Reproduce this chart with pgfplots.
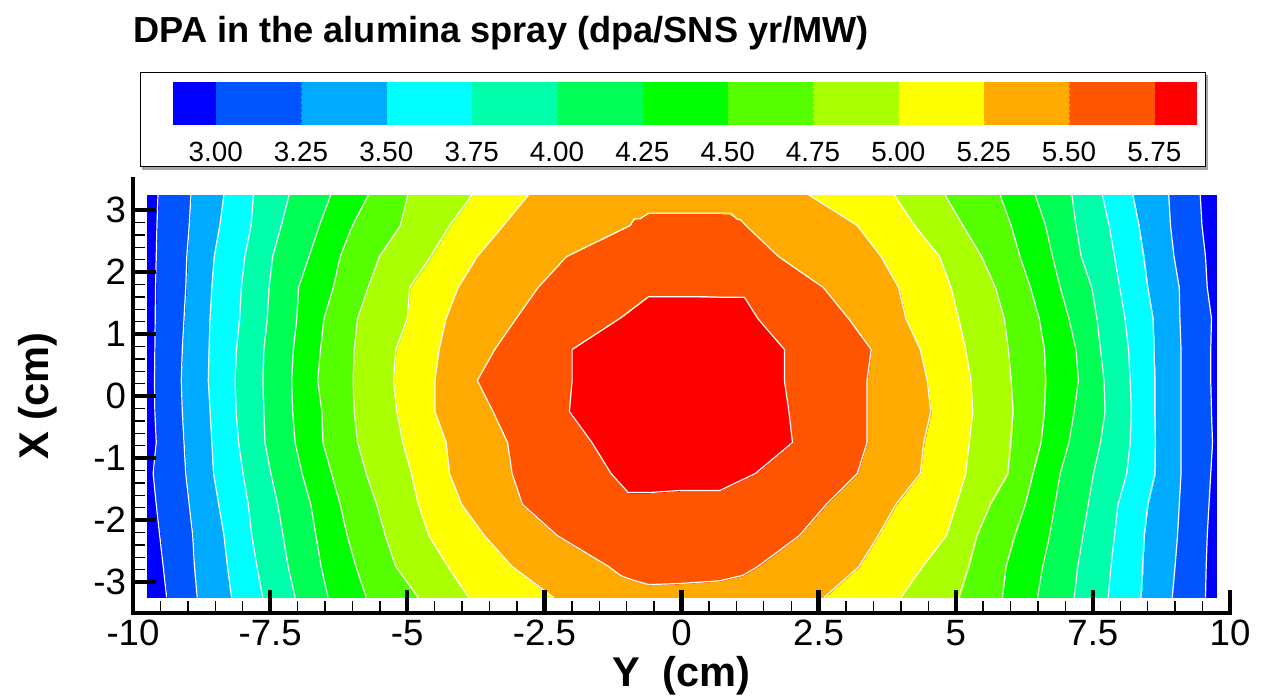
\documentclass[border=0pt]{standalone}
\usepackage{fontspec}
\setmainfont{Liberation Sans}
\usepackage{pgfplots}
\usepackage{pgfplotstable}
\pgfplotsset{compat=1.18}

% 13 contour bands, 0.125 per colormap step (end bands are half bands)
\pgfplotsset{
  /pgf/number format/assume math mode=true,
  colormap={dpa}{
    rgb255(0cm)=(0,0,255)
    rgb255(1cm)=(0,85,255)   rgb255(2cm)=(0,85,255)
    rgb255(3cm)=(0,170,255)  rgb255(4cm)=(0,170,255)
    rgb255(5cm)=(0,255,255)  rgb255(6cm)=(0,255,255)
    rgb255(7cm)=(0,255,170)  rgb255(8cm)=(0,255,170)
    rgb255(9cm)=(0,255,85)   rgb255(10cm)=(0,255,85)
    rgb255(11cm)=(0,255,0)   rgb255(12cm)=(0,255,0)
    rgb255(13cm)=(85,255,0)  rgb255(14cm)=(85,255,0)
    rgb255(15cm)=(170,255,0) rgb255(16cm)=(170,255,0)
    rgb255(17cm)=(255,255,0) rgb255(18cm)=(255,255,0)
    rgb255(19cm)=(255,170,0) rgb255(20cm)=(255,170,0)
    rgb255(21cm)=(255,85,0)  rgb255(22cm)=(255,85,0)
    rgb255(23cm)=(255,0,0)   rgb255(24cm)=(255,0,0)
  },
  colormap access=piecewise constant,
  point meta min=2.875, point meta max=5.875,
}

% dpa values on the mesh: one line of 28 points per X row (k = column)
\pgfplotstableread{
k Y X v
0 -9.75 3.25 2.92
1 -9.544 3.25 3.00
2 -8.943 3.25 3.25
3 -8.342 3.25 3.50
4 -7.804 3.25 3.75
5 -7.152 3.25 4.00
6 -6.392 3.25 4.25
7 -5.703 3.25 4.50
8 -4.987 3.25 4.75
9 -3.816 3.25 5.00
10 -2.785 3.25 5.25
11 -1.6 3.25 5.36
12 -1.1 3.25 5.39
13 -0.6 3.25 5.41
14 0.7 3.25 5.41
15 1.2 3.25 5.39
16 1.7 3.25 5.36
17 2.310 3.25 5.25
18 3.874 3.25 5.00
19 4.799 3.25 4.75
20 5.807 3.25 4.50
21 6.446 3.25 4.25
22 7.116 3.25 4.00
23 7.671 3.25 3.75
24 8.226 3.25 3.50
25 8.883 3.25 3.25
26 9.457 3.25 3.00
27 9.75 3.25 2.90
0 -9.75 2.75 2.92
1 -9.563 2.75 3.00
2 -8.975 2.75 3.25
3 -8.418 2.75 3.50
4 -7.848 2.75 3.75
5 -7.297 2.75 4.00
6 -6.601 2.75 4.25
7 -6.000 2.75 4.50
8 -5.127 2.75 4.75
9 -4.228 2.75 5.00
10 -3.247 2.75 5.25
11 -0.937 2.75 5.50
12 -0.8 2.75 5.53
13 -0.6 2.75 5.56
14 0.7 2.75 5.56
15 0.95 2.75 5.53
16 1.174 2.75 5.50
17 3.204 2.75 5.25
18 4.250 2.75 5.00
19 5.131 2.75 4.75
20 6.011 2.75 4.50
21 6.637 2.75 4.25
22 7.192 2.75 4.00
23 7.798 2.75 3.75
24 8.341 2.75 3.50
25 8.915 2.75 3.25
26 9.489 2.75 3.00
27 9.75 2.75 2.90
0 -9.75 2.25 2.92
1 -9.576 2.25 3.00
2 -9.019 2.25 3.25
3 -8.519 2.25 3.50
4 -7.962 2.25 3.75
5 -7.456 2.25 4.00
6 -6.791 2.25 4.25
7 -6.222 2.25 4.50
8 -5.506 2.25 4.75
9 -4.576 2.25 5.00
10 -3.722 2.25 5.25
11 -2.095 2.25 5.50
12 -1.3 2.25 5.64
13 -0.6 2.25 5.66
14 0.7 2.25 5.66
15 1.2 2.25 5.64
16 1.768 2.25 5.50
17 3.638 2.25 5.25
18 4.703 2.25 5.00
19 5.469 2.25 4.75
20 6.171 2.25 4.50
21 6.765 2.25 4.25
22 7.288 2.25 4.00
23 7.894 2.25 3.75
24 8.424 2.25 3.50
25 8.979 2.25 3.25
26 9.553 2.25 3.00
27 9.75 2.25 2.90
0 -9.75 1.75 2.92
1 -9.589 1.75 3.00
2 -9.038 1.75 3.25
3 -8.563 1.75 3.50
4 -8.025 1.75 3.75
5 -7.519 1.75 4.00
6 -6.981 1.75 4.25
7 -6.348 1.75 4.50
8 -5.715 1.75 4.75
9 -4.956 1.75 5.00
10 -4.070 1.75 5.25
11 -2.614 1.75 5.50
12 -1.15 1.75 5.70
13 -0.6 1.75 5.70
14 0.7 1.75 5.70
15 1.35 1.75 5.70
16 2.585 1.75 5.50
17 3.957 1.75 5.25
18 4.914 1.75 5.00
19 5.724 1.75 4.75
20 6.362 1.75 4.50
21 6.905 1.75 4.25
22 7.479 1.75 4.00
23 7.990 1.75 3.75
24 8.500 1.75 3.50
25 9.075 1.75 3.25
26 9.585 1.75 3.00
27 9.75 1.75 2.90
0 -9.75 1.25 2.92
1 -9.595 1.25 3.00
2 -9.070 1.25 3.25
3 -8.595 1.25 3.50
4 -8.057 1.25 3.75
5 -7.551 1.25 4.00
6 -7.013 1.25 4.25
7 -6.519 1.25 4.50
8 -5.905 1.25 4.75
9 -5.000 1.25 5.00
10 -4.291 1.25 5.25
11 -3.013 1.25 5.50
12 -1.127 1.25 5.75
13 -0.6 1.25 5.87
14 0.7 1.25 5.86
15 1.391 1.25 5.75
16 3.044 1.25 5.50
17 4.091 1.25 5.25
18 5.054 1.25 5.00
19 5.884 1.25 4.75
20 6.522 1.25 4.50
21 7.064 1.25 4.25
22 7.575 1.25 4.00
23 8.086 1.25 3.75
24 8.596 1.25 3.50
25 9.087 1.25 3.25
26 9.662 1.25 3.00
27 9.75 1.25 2.90
0 -9.75 0.75 2.92
1 -9.601 0.75 3.00
2 -9.101 0.75 3.25
3 -8.614 0.75 3.50
4 -8.114 0.75 3.75
5 -7.614 0.75 4.00
6 -7.076 0.75 4.25
7 -6.582 0.75 4.50
8 -5.968 0.75 4.75
9 -5.209 0.75 5.00
10 -4.418 0.75 5.25
11 -3.405 0.75 5.50
12 -1.994 0.75 5.75
13 -0.6 0.75 5.92
14 0.7 0.75 5.92
15 1.876 0.75 5.75
16 3.459 0.75 5.50
17 4.352 0.75 5.25
18 5.182 0.75 5.00
19 5.960 0.75 4.75
20 6.618 0.75 4.50
21 7.192 0.75 4.25
22 7.639 0.75 4.00
23 8.149 0.75 3.75
24 8.615 0.75 3.50
25 9.107 0.75 3.25
26 9.649 0.75 3.00
27 9.75 0.75 2.90
0 -9.75 0.25 2.92
1 -9.608 0.25 3.00
2 -9.120 0.25 3.25
3 -8.627 0.25 3.50
4 -8.139 0.25 3.75
5 -7.633 0.25 4.00
6 -7.108 0.25 4.25
7 -6.633 0.25 4.50
8 -5.987 0.25 4.75
9 -5.253 0.25 5.00
10 -4.494 0.25 5.25
11 -3.722 0.25 5.50
12 -1.994 0.25 5.75
13 -0.6 0.25 5.93
14 0.7 0.25 5.93
15 1.876 0.25 5.75
16 3.382 0.25 5.50
17 4.480 0.25 5.25
18 5.278 0.25 5.00
19 6.011 0.25 4.75
20 6.637 0.25 4.50
21 7.237 0.25 4.25
22 7.703 0.25 4.00
23 8.181 0.25 3.75
24 8.628 0.25 3.50
25 9.107 0.25 3.25
26 9.649 0.25 3.00
27 9.75 0.25 2.90
0 -9.75 -0.25 2.92
1 -9.601 -0.25 3.00
2 -9.101 -0.25 3.25
3 -8.595 -0.25 3.50
4 -8.120 -0.25 3.75
5 -7.614 -0.25 4.00
6 -7.089 -0.25 4.25
7 -6.557 -0.25 4.50
8 -5.968 -0.25 4.75
9 -5.190 -0.25 5.00
10 -4.494 -0.25 5.25
11 -3.437 -0.25 5.50
12 -2.044 -0.25 5.75
13 -0.6 -0.25 5.93
14 0.7 -0.25 5.93
15 1.959 -0.25 5.75
16 3.382 -0.25 5.50
17 4.544 -0.25 5.25
18 5.310 -0.25 5.00
19 6.043 -0.25 4.75
20 6.618 -0.25 4.50
21 7.160 -0.25 4.25
22 7.722 -0.25 4.00
23 8.200 -0.25 3.75
24 8.628 -0.25 3.50
25 9.107 -0.25 3.25
26 9.662 -0.25 3.00
27 9.75 -0.25 2.90
0 -9.75 -0.75 2.92
1 -9.576 -0.75 3.00
2 -9.070 -0.75 3.25
3 -8.563 -0.75 3.50
4 -8.076 -0.75 3.75
5 -7.595 -0.75 4.00
6 -7.044 -0.75 4.25
7 -6.538 -0.75 4.50
8 -5.905 -0.75 4.75
9 -5.082 -0.75 5.00
10 -4.291 -0.75 5.25
11 -3.171 -0.75 5.50
12 -1.633 -0.75 5.75
13 -0.6 -0.75 5.92
14 0.7 -0.75 5.92
15 2.023 -0.75 5.75
16 3.382 -0.75 5.50
17 4.416 -0.75 5.25
18 5.246 -0.75 5.00
19 5.999 -0.75 4.75
20 6.554 -0.75 4.50
21 7.064 -0.75 4.25
22 7.639 -0.75 4.00
23 8.181 -0.75 3.75
24 8.641 -0.75 3.50
25 9.107 -0.75 3.25
26 9.681 -0.75 3.00
27 9.75 -0.75 2.90
0 -9.75 -1.25 2.92
1 -9.633 -1.25 3.00
2 -9.038 -1.25 3.25
3 -8.532 -1.25 3.50
4 -7.994 -1.25 3.75
5 -7.487 -1.25 4.00
6 -6.918 -1.25 4.25
7 -6.380 -1.25 4.50
8 -5.747 -1.25 4.75
9 -4.924 -1.25 5.00
10 -4.228 -1.25 5.25
11 -3.089 -1.25 5.50
12 -1.285 -1.25 5.75
13 -0.6 -1.25 5.83
14 0.7 -1.25 5.81
15 1.347 -1.25 5.75
16 3.204 -1.25 5.50
17 4.352 -1.25 5.25
18 5.182 -1.25 5.00
19 5.948 -1.25 4.75
20 6.407 -1.25 4.50
21 6.905 -1.25 4.25
22 7.511 -1.25 4.00
23 8.117 -1.25 3.75
24 8.628 -1.25 3.50
25 9.107 -1.25 3.25
26 9.649 -1.25 3.00
27 9.75 -1.25 2.90
0 -9.75 -1.75 2.92
1 -9.576 -1.75 3.00
2 -8.975 -1.75 3.25
3 -8.437 -1.75 3.50
4 -7.899 -1.75 3.75
5 -7.361 -1.75 4.00
6 -6.759 -1.75 4.25
7 -6.222 -1.75 4.50
8 -5.557 -1.75 4.75
9 -4.797 -1.75 5.00
10 -4.006 -1.75 5.25
11 -2.899 -1.75 5.50
12 -1.2 -1.75 5.70
13 -0.6 -1.75 5.70
14 0.7 -1.75 5.70
15 1.35 -1.75 5.70
16 2.636 -1.75 5.50
17 3.906 -1.75 5.25
18 5.010 -1.75 5.00
19 5.629 -1.75 4.75
20 6.267 -1.75 4.50
21 6.809 -1.75 4.25
22 7.415 -1.75 4.00
23 7.958 -1.75 3.75
24 8.500 -1.75 3.50
25 9.075 -1.75 3.25
26 9.617 -1.75 3.00
27 9.75 -1.75 2.90
0 -9.75 -2.25 2.92
1 -9.513 -2.25 3.00
2 -8.911 -2.25 3.25
3 -8.342 -2.25 3.50
4 -7.835 -2.25 3.75
5 -7.266 -2.25 4.00
6 -6.665 -2.25 4.25
7 -6.095 -2.25 4.50
8 -5.399 -2.25 4.75
9 -4.608 -2.25 5.00
10 -3.595 -2.25 5.25
11 -2.266 -2.25 5.50
12 -1.4 -2.25 5.64
13 -0.6 -2.25 5.66
14 0.7 -2.25 5.66
15 1.3 -2.25 5.64
16 2.151 -2.25 5.50
17 3.586 -2.25 5.25
18 4.831 -2.25 5.00
19 5.386 -2.25 4.75
20 6.075 -2.25 4.50
21 6.713 -2.25 4.25
22 7.320 -2.25 4.00
23 7.894 -2.25 3.75
24 8.437 -2.25 3.50
25 9.043 -2.25 3.25
26 9.585 -2.25 3.00
27 9.75 -2.25 2.90
0 -9.75 -2.75 2.92
1 -9.449 -2.75 3.00
2 -8.880 -2.75 3.25
3 -8.278 -2.75 3.50
4 -7.741 -2.75 3.75
5 -7.171 -2.75 4.00
6 -6.570 -2.75 4.25
7 -5.937 -2.75 4.50
8 -5.209 -2.75 4.75
9 -4.259 -2.75 5.00
10 -3.089 -2.75 5.25
11 -1.329 -2.75 5.50
12 -0.9 -2.75 5.55
13 -0.6 -2.75 5.57
14 0.7 -2.75 5.56
15 1.05 -2.75 5.54
16 1.391 -2.75 5.50
17 3.236 -2.75 5.25
18 4.397 -2.75 5.00
19 5.233 -2.75 4.75
20 5.916 -2.75 4.50
21 6.586 -2.75 4.25
22 7.224 -2.75 4.00
23 7.830 -2.75 3.75
24 8.405 -2.75 3.50
25 8.998 -2.75 3.25
26 9.566 -2.75 3.00
27 9.75 -2.75 2.90
0 -9.75 -3.25 2.92
1 -9.386 -3.25 3.00
2 -8.829 -3.25 3.25
3 -8.203 -3.25 3.50
4 -7.633 -3.25 3.75
5 -7.044 -3.25 4.00
6 -6.443 -3.25 4.25
7 -5.747 -3.25 4.50
8 -4.797 -3.25 4.75
9 -3.880 -3.25 5.00
10 -2.329 -3.25 5.25
11 -1.6 -3.25 5.38
12 -1.1 -3.25 5.42
13 -0.6 -3.25 5.45
14 0.7 -3.25 5.43
15 1.3 -3.25 5.40
16 1.9 -3.25 5.36
17 2.597 -3.25 5.25
18 4.001 -3.25 5.00
19 5.054 -3.25 4.75
20 5.852 -3.25 4.50
21 6.490 -3.25 4.25
22 7.160 -3.25 4.00
23 7.779 -3.25 3.75
24 8.373 -3.25 3.50
25 8.947 -3.25 3.25
26 9.553 -3.25 3.00
27 9.75 -3.25 2.90
}\dpa

\begin{document}
\begin{tikzpicture}
\path[use as bounding box] (-66.5bp,-42bp) rectangle (566.5bp,306.5bp);

\begin{axis}[
  at={(0,0)}, anchor=south west,
  scale only axis, width=548.5bp, height=217bp,
  xmin=-10, xmax=10, ymin=-3.5, ymax=3.5,
  axis lines*=left,
  axis line style={line width=2.2bp, line cap=rect},
  axis on top,
  xtick={-10,-7.5,-5,-2.5,0,2.5,5,7.5,10},
  ytick={-3,-2,-1,0,1,2,3},
  minor tick num=4,
  tick align=inside,
  major tick length=11.5bp, minor tick length=6bp,
  every major tick/.append style={line width=2.2bp, black},
  every minor tick/.append style={line width=0.7bp, black},
  tick label style={font=\fontsize{18.3bp}{20bp}\selectfont},
  xlabel={Y\ \ (cm)}, ylabel={X (cm)},
  label style={font=\bfseries\fontsize{20.8bp}{24bp}\selectfont},
  xlabel style={at={(axis description cs:0.5,-0.1682)}, anchor=base},
  ylabel style={at={(axis description cs:-0.0871,0.5)}, anchor=center},
  unbounded coords=discard,
]
\addplot[surf, shader=interp, mesh/cols=28, point meta=\thisrow{v}]
  table[x=Y, y=X] {\dpa};
% open contour lines, one mesh column each
\pgfplotsinvokeforeach{1,2,3,4,5,6,7,8,9,10,17,18,19,20,21,22,23,24,25,26}{
  \addplot[white, line width=0.6bp]
    table[x expr={abs(\thisrow{k}-#1)<0.5 ? \thisrow{Y} : nan}, y=X] {\dpa};
}
% closed 5.50 and 5.75 contours
\addplot[white, line width=0.6bp] coordinates {
  (-0.937,2.75) (-0.864,2.857) (-0.757,2.857) (-0.6,2.95) (0.9,2.95)
  (1.004,2.857) (1.082,2.838) (1.174,2.75)
  (1.768,2.25) (2.585,1.75) (3.044,1.25) (3.459,0.75) (3.382,0.25) (3.382,-0.25)
  (3.382,-0.75) (3.204,-1.25) (2.636,-1.75) (2.151,-2.25) (1.391,-2.75)
  (1.121,-2.893) (0.923,-2.932) (0.7,-2.981) (-0.009,-3.023) (-0.6,-3.042)
  (-0.833,-2.983) (-0.977,-2.942) (-1.106,-2.897) (-1.329,-2.75)
  (-2.266,-2.25) (-2.899,-1.75) (-3.089,-1.25) (-3.171,-0.75) (-3.437,-0.25)
  (-3.722,0.25) (-3.405,0.75) (-3.013,1.25) (-2.614,1.75) (-2.095,2.25) (-0.937,2.75)};
\addplot[white, line width=0.6bp] coordinates {
  (-1.127,1.25) (-0.6,1.603) (0.318,1.603) (0.7,1.594) (1.147,1.594) (1.391,1.25)
  (1.876,0.75) (1.876,0.25) (1.959,-0.25) (2.023,-0.75) (1.347,-1.25)
  (0.7,-1.523) (-0.009,-1.523) (-0.6,-1.558) (-0.969,-1.558)
  (-1.285,-1.25) (-1.633,-0.75) (-2.044,-0.25) (-1.994,0.25) (-1.994,0.75) (-1.127,1.25)};
\end{axis}

% contour legend
\begin{axis}[
  at={(20bp,244bp)}, anchor=south west,
  scale only axis, width=512bp, height=21.5bp,
  xmin=2.875, xmax=5.875, ymin=0, ymax=1,
  axis line style={draw=none},
  ytick=\empty,
  xtick={3,3.25,3.5,3.75,4,4.25,4.5,4.75,5,5.25,5.5,5.75},
  major tick length=0pt,
  xticklabel style={font=\fontsize{13.9bp}{16bp}\selectfont, yshift=-5bp,
    /pgf/number format/.cd, fixed, fixed zerofill, precision=2},
]
\addplot[surf, shader=interp, mesh/cols=2, point meta=x] table {
x y
2.875 0
5.875 0
2.875 1
5.875 1
};
\end{axis}
\draw[gray!70, line width=1.5bp] (4.5bp,222.2bp) -- (536.8bp,222.2bp) -- (536.8bp,269bp);
\draw[black, line width=0.5bp] (3.5bp,223bp) rectangle (536bp,270bp);

\node[anchor=base west, inner sep=0pt, font=\bfseries\fontsize{18.1bp}{21bp}\selectfont]
  at (0bp,285bp) {DPA in the alumina spray (dpa/SNS yr/MW)};
\end{tikzpicture}
\end{document}
